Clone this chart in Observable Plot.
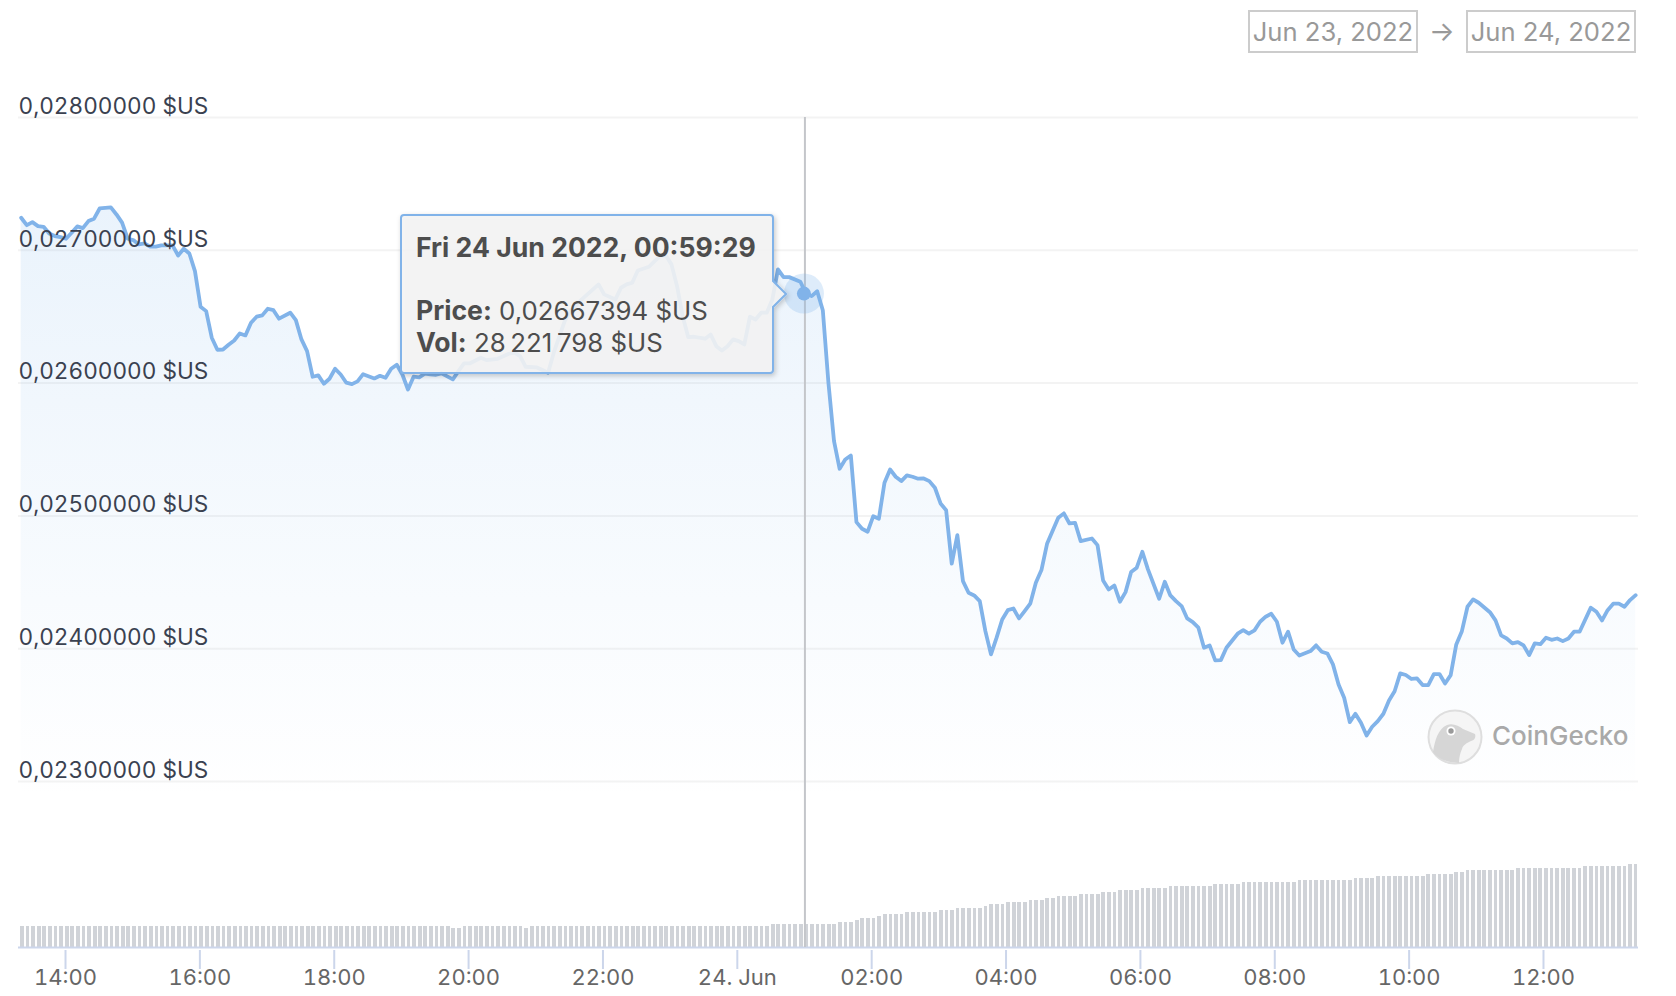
<!DOCTYPE html>
<html>
<head>
<meta charset="utf-8">
<script src="https://cdn.jsdelivr.net/npm/d3@7"></script>
<script src="https://cdn.jsdelivr.net/npm/@observablehq/plot@0.6"></script>
<style>
html,body{margin:0;padding:0;background:#fff;}
#page{position:relative;width:1676px;height:996px;overflow:hidden;font-family:Inter,sans-serif;}
#page svg.plot{position:absolute;left:0;top:0;}
.dateBox{position:absolute;top:10px;height:39px;width:166px;border:2px solid #ccc;color:#999;font-size:25.6px;line-height:39px;text-align:center;white-space:nowrap;}
#arrow{position:absolute;left:1429px;top:10px;line-height:43px;font-size:27px;color:#999;}
#tipShape{position:absolute;left:395px;top:205px;}
.tipText{position:absolute;left:416px;color:#4d4d4d;font-size:25.8px;white-space:nowrap;line-height:32px;}
.tipText b{font-weight:700;font-size:26.6px;}
#logo{position:absolute;left:1425px;top:707px;}
</style>
</head>
<body>
<div id="page">
  <div class="dateBox" style="left:1248px">Jun 23, 2022</div>
  <div id="arrow">→</div>
  <div class="dateBox" style="left:1466px">Jun 24, 2022</div>
</div>
<script>
// five-minute step index of each traced vertex
const priceSteps = [0,1,2,3,4,5,6,7,8,9,10,11,12,13,14,16,17,18,19,20,21,22,23,24,25,27,28,29,30,31,32,33,34,35,36,37,38,39,40,41,42,43,44,45,46,48,49,50,51,52,53,54,55,56,57,58,59,60,61,63,64,65,66,67,68,69,70,71,72,73,74,75,77,78,79,80,82,83,85,87,88,89,90,92,93,94,95,97,98,100,101,103,104,106,107,108,109,110,112,113,114,115,116,117,118,119,120,122,123,124,125,126,127,128,129,130,131,132,133,134,135,136,137,139,140,141,142,143,144,145,146,147,148,149,150,151,152,153,154,155,156,157,158,159,160,161,162,163,164,165,166,167,168,169,170,171,172,173,174,175,176,177,178,179,180,181,182,183,185,186,187,188,189,191,192,193,194,195,196,197,198,199,200,201,203,204,205,206,207,208,209,210,211,212,213,214,215,217,218,219,220,221,222,223,224,225,226,227,228,230,231,232,233,234,235,236,237,238,239,240,241,242,243,244,245,246,247,248,249,250,251,252,253,254,255,256,257,258,259,260,262,263,264,265,266,267,268,269,270,271,272,273,274,275,276,277,278,280,281,282,283,284,285,286,287,288];
// price in thousandths of a dollar
const priceThousandths = [27.245,27.189,27.212,27.182,27.177,27.127,27.107,27.099,27.087,27.132,27.180,27.167,27.220,27.238,27.315,27.323,27.270,27.208,27.087,27.077,27.044,27.052,27.027,27.027,27.037,27.037,26.961,27.012,26.976,26.843,26.575,26.542,26.342,26.251,26.253,26.289,26.321,26.374,26.359,26.455,26.500,26.510,26.560,26.549,26.485,26.530,26.474,26.329,26.241,26.048,26.058,25.995,26.033,26.108,26.065,26.003,25.992,26.013,26.067,26.035,26.055,26.040,26.108,26.138,26.065,25.952,26.048,26.043,26.071,26.065,26.063,26.073,26.028,26.090,26.148,26.148,26.191,26.173,26.183,26.221,26.229,26.203,26.123,26.118,26.098,26.078,26.229,26.472,26.542,26.630,26.668,26.743,26.668,26.630,26.718,26.743,26.756,26.848,26.876,26.918,26.956,26.961,26.894,26.730,26.504,26.346,26.349,26.334,26.366,26.278,26.246,26.278,26.329,26.316,26.291,26.500,26.479,26.530,26.530,26.630,26.856,26.798,26.798,26.763,26.674,26.655,26.692,26.549,26.003,25.563,25.355,25.425,25.455,24.953,24.903,24.881,24.998,24.979,25.250,25.350,25.295,25.262,25.305,25.295,25.280,25.282,25.262,25.212,25.094,25.043,24.640,24.855,24.509,24.421,24.401,24.358,24.132,23.957,24.083,24.220,24.290,24.303,24.228,24.283,24.339,24.497,24.592,24.790,24.986,25.019,24.943,24.948,24.810,24.830,24.780,24.514,24.446,24.476,24.354,24.426,24.577,24.610,24.730,24.597,24.376,24.504,24.401,24.358,24.321,24.228,24.200,24.158,24.007,24.025,23.912,23.914,24.007,24.113,24.140,24.113,24.138,24.203,24.241,24.263,24.203,24.045,24.128,23.994,23.949,23.982,24.025,23.977,23.964,23.882,23.731,23.631,23.447,23.510,23.442,23.347,23.412,23.455,23.510,23.610,23.680,23.814,23.802,23.772,23.776,23.726,23.726,23.809,23.809,23.738,23.801,24.032,24.132,24.316,24.371,24.346,24.275,24.213,24.100,24.077,24.040,24.050,24.025,23.952,24.040,24.034,24.083,24.067,24.077,24.057,24.077,24.128,24.128,24.309,24.278,24.213,24.290,24.339,24.339,24.316,24.366,24.403];
// volume in millions of dollars, and how many consecutive bars sit at that level
const volumeLevels = [25.8,23.3,25.8,23.3,25.8,28.2,30.7,33.1,35.6,38.0,40.5,42.9,45.4,47.9,50.3,52.8,55.2,57.7,60.1,62.6,65.0,67.5,69.9,72.4,74.8,77.3,79.8,82.2,84.7,87.1,89.6,92.0,94.5,96.9,99.4,101.8];
const volumeRuns   = [77,2,11,1,43,12,3,1,3,1,4,6,3,5,1,3,4,3,2,4,4,3,4,5,8,5,10,10,4,9,5,2,9,12,8,2];
const yTicks = [0.023,0.024,0.025,0.026,0.027,0.028];
const xTickLabels = ["14:00","16:00","18:00","20:00","22:00","24. Jun","02:00","04:00","06:00","08:00","10:00","12:00"];
const xTicks = xTickLabels.map((_, i) => new Date(Date.UTC(2022, 5, 23, 14 + 2 * i)));
const selectedPoint = [{t: new Date(Date.UTC(2022, 5, 24, 0, 59, 29)), price: 0.02667394}];

const startTime = Date.UTC(2022, 5, 23, 13, 20, 24);
const stepMs = 300400;
const timeOf = (s) => new Date(startTime + s * stepMs);
const barStart = Date.UTC(2022, 5, 23, 13, 21, 30);
const barStepMs = 300250;
const barHalfMs = 100000;
const priceFloor = 0.02175;
const priceTop = 0.028;
const volumeToPrice = 6.137e-12;

const priceData = priceSteps.map((s, i) => ({t: timeOf(s), price: priceThousandths[i] / 1000}));
const volumeData = [];
volumeLevels.forEach((lv, i) => { for (let k = 0; k < volumeRuns[i]; k++) volumeData.push(lv); });
const bars = volumeData.map((v, s) => ({
  x1: new Date(barStart + s * barStepMs - barHalfMs),
  x2: new Date(barStart + s * barStepMs + barHalfMs),
  top: priceFloor + v * 1e6 * volumeToPrice
}));

const gradient = () => {
  const defs = d3.create("svg:defs");
  const g = defs.append("linearGradient").attr("id", "priceFill").attr("x1", 0).attr("y1", 0).attr("x2", 0).attr("y2", 1);
  g.append("stop").attr("offset", "0").attr("stop-color", "#7cb5ec").attr("stop-opacity", 0.16);
  g.append("stop").attr("offset", "0.8").attr("stop-color", "#7cb5ec").attr("stop-opacity", 0);
  return defs.node();
};

const chart = Plot.plot({
  width: 1676, height: 996,
  marginLeft: 18, marginRight: 38, marginTop: 117, marginBottom: 49,
  style: {fontFamily: "Inter, sans-serif", fontSize: "22px", background: "transparent"},
  x: {type: "utc", domain: [new Date(Date.UTC(2022, 5, 23, 13, 18, 1)), new Date(Date.UTC(2022, 5, 24, 13, 24, 51))]},
  y: {domain: [priceFloor, priceTop]},
  marks: [
    gradient,
    Plot.gridY(yTicks, {stroke: "#f3f3f3", strokeOpacity: 1, strokeWidth: 2}),
    Plot.areaY(priceData, {x: "t", y1: priceFloor, y2: "price", fill: "url(#priceFill)"}),
    Plot.rect(bars, {x1: "x1", x2: "x2", y1: priceFloor, y2: "top", fill: "#d0d3d8", shapeRendering: "crispEdges"}),
    Plot.ruleY([priceFloor], {stroke: "#ccd6eb", strokeWidth: 2}),
    Plot.axisX({ticks: xTicks, tickSize: 19, tickPadding: 0, stroke: "#ccd6eb", strokeWidth: 2, fill: "#666666", fontSize: 22, tickFormat: (d) => xTickLabels[xTicks.findIndex((t) => +t === +d)], label: null, dy: 3}),
    Plot.ruleX(selectedPoint, {x: "t", y1: priceFloor, y2: priceTop, dx: 1, stroke: "#c4c6ca", strokeWidth: 2}),
    Plot.lineY(priceData, {x: "t", y: "price", stroke: "#81b3e9", strokeWidth: 3.8, strokeLinejoin: "round"}),
    Plot.dot(selectedPoint, {x: "t", y: "price", r: 20, fill: "#7cb5ec", fillOpacity: 0.25}),
    Plot.dot(selectedPoint, {x: "t", y: "price", r: 7, fill: "#81b3e9"}),
    Plot.axisY({ticks: yTicks, tickSize: 0, tickPadding: 0, textAnchor: "start", dx: 0, dy: -11, fill: "#3a4150", fontSize: 22.6, tickFormat: (d) => d.toFixed(8).replace(".", ",") + " $US", label: null})
  ]
});
chart.classList.add("plot");
const page = document.getElementById("page");
page.insertBefore(chart, page.firstChild);

page.insertAdjacentHTML("beforeend", `
<svg id="tipShape" width="410" height="190" viewBox="395 205 410 190">
  <defs><filter id="sh" x="-5%" y="-5%" width="110%" height="115%"><feDropShadow dx="1.5" dy="2" stdDeviation="2.5" flood-color="#000" flood-opacity="0.22"/></filter></defs>
  <path filter="url(#sh)" d="M404 215H770a3 3 0 0 1 3 3V281L786 294L773 307V370a3 3 0 0 1 -3 3H404a3 3 0 0 1 -3 -3V218a3 3 0 0 1 3 -3Z" fill="rgba(245,245,245,0.88)" stroke="#81b3e9" stroke-width="2"/>
</svg>
<div class="tipText" style="top:231px"><b>Fri 24 Jun 2022, 00:59:29</b></div>
<div class="tipText" style="top:294px"><b>Price:</b> 0,02667394 $US</div>
<div class="tipText" style="top:326px"><b>Vol:</b> 28\u202f221\u202f798 $US</div>
<svg id="logo" width="210" height="60" viewBox="-30 -30 210 60">
  <circle r="26.5" fill="#f5f5f5" stroke="#dedede" stroke-width="2"/>
  <path d="M-22 15C-20 3 -17 -8 -8 -12C-2 -14 4 -11 8 -8L20 -3C21 0 20 3 16 4C12 6 8 8 7 12C5 16 4 21 4 26Q-15 25 -22 15Z" fill="#d6d6d6"/>
  <circle cx="-4" cy="-6" r="4.5" fill="#fff"/><circle cx="-4" cy="-6" r="2.7" fill="#9a9a9a"/>
  <text x="37" y="8" font-family="Inter, sans-serif" font-size="26" font-weight="500" fill="#a9a9a9">CoinGecko</text>
</svg>`);
</script>
</body>
</html>
